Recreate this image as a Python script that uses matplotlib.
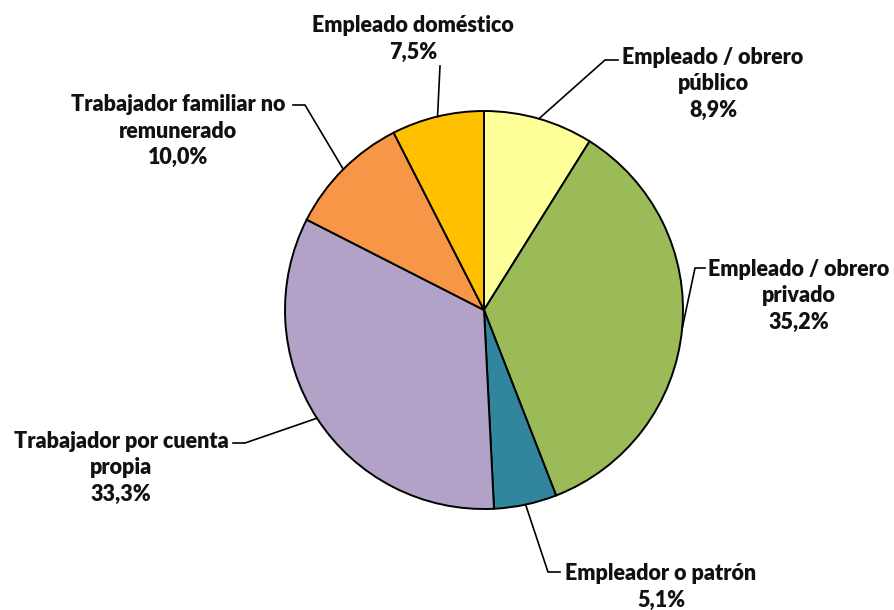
import numpy as np
import matplotlib.pyplot as plt

categories = ['Empleado / obrero\npúblico', 'Empleado / obrero\nprivado', 'Empleador o patrón',
              'Trabajador por cuenta\npropia', 'Trabajador familiar no\nremunerado', 'Empleado doméstico']
values = [8.9, 35.2, 5.1, 33.3, 10.0, 7.5]
colors = ['#FFFF99', '#9BBB59', '#31859C', '#B2A2C7', '#F79646', '#FFC000']

W, H = 894, 610
# label layout in pixel coords (y down): text centre, elbow point, end of horizontal tick
label_pos = [(713, 84), (799, 296), (661, 587), (121, 468), (178, 131), (413, 39)]
elbows = [(605, 60), (695, 268), (548, 572), (245, 443), (305, 105), (440, 66)]
ticks = [(618, 60), (705, 268), (560, 572), (233, 443), (293, 105), (440, 66)]

fig = plt.figure(figsize=(W / 100, H / 100), dpi=100)
ax = fig.add_axes([0, 0, 1, 1])

cx, cy, r = 484, H - 310, 199
wedges, _ = ax.pie(values, colors=colors, startangle=90, counterclock=False,
                   center=(cx, cy), radius=r,
                   wedgeprops=dict(edgecolor='black', linewidth=1.4))

for w, cat, val, lp, el, tk in zip(wedges, categories, values, label_pos, elbows, ticks):
    mid = np.deg2rad((w.theta1 + w.theta2) / 2)
    x0, y0 = cx + r * np.cos(mid), cy + r * np.sin(mid)
    ax.plot([x0, el[0], tk[0]], [y0, H - el[1], H - tk[1]], color='black', lw=1.2)
    txt = f'{cat}\n{val:.1f}%'.replace('.', ',')
    ax.text(lp[0], H - lp[1], txt, ha='center', va='center', fontsize=15.5,
            fontweight='heavy', family='Lato', linespacing=1.3, color='#111111')

ax.set_xlim(0, W)
ax.set_ylim(0, H)
ax.set_aspect('equal')
ax.axis('off')

fig.savefig('out.png', dpi=100)
